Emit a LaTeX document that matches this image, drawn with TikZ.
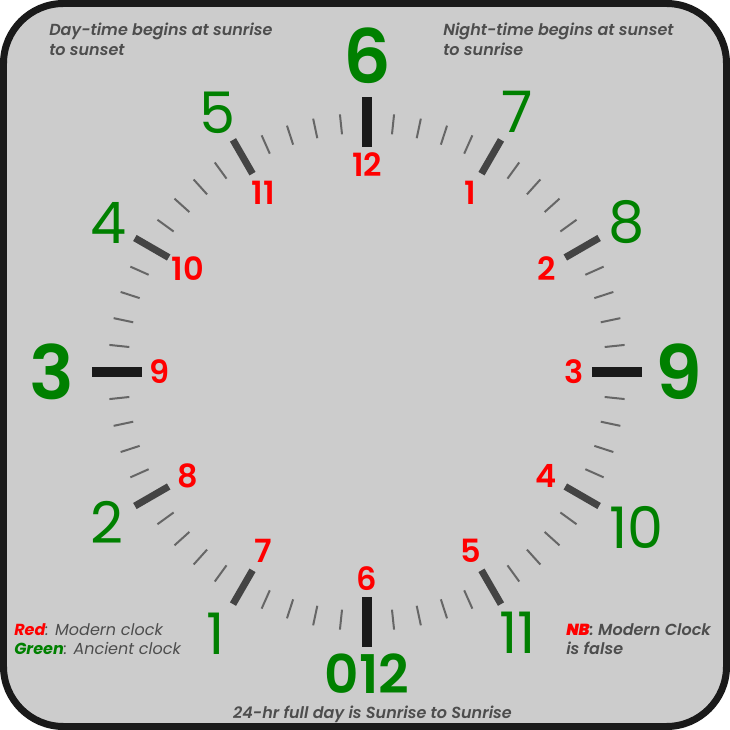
\documentclass[tikz,border=0pt]{standalone}
\usepackage{fontspec}
\setmainfont{Poppins}
\newfontfamily\semifont{Poppins SemiBold}[ItalicFont={Poppins SemiBold Italic}]
\usepackage{xcolor}
\usepackage{tikz}
\usetikzlibrary{positioning}

\definecolor{facegray}{HTML}{CCCCCC}
\definecolor{framegray}{HTML}{1A1A1A}
\definecolor{hourgray}{HTML}{444444}
\definecolor{minorgray}{HTML}{666666}
\definecolor{textgray}{HTML}{4D4D4D}
\definecolor{ancient}{HTML}{008000}
\definecolor{modern}{HTML}{FF0000}

\begin{document}
\begin{tikzpicture}[
    x=0.75pt, y=0.75pt,
    frame/.style={draw=framegray, line width=5.25pt, fill=facegray, rounded corners=45pt},
    minortick/.style={draw=minorgray, line width=1.5pt},
    hourtick/.style={draw=hourgray, line width=5.25pt},
    maintick/.style={draw=framegray, line width=7.5pt},
    modernnum/.style={text=modern, inner sep=0pt, font=\fontsize{24}{24}\selectfont\semifont},
    ancientnum/.style={text=ancient, inner sep=0pt, font=\fontsize{43}{43}\selectfont},
    ancientbig/.style={text=ancient, inner sep=0pt, font=\fontsize{56}{56}\selectfont\semifont},
    note/.style={text=textgray, inner sep=0pt, align=left, font=\fontsize{12}{14.5}\selectfont\semifont\itshape}
]
    \useasboundingbox (-367,-358) rectangle (363,372);

    % Face
    \draw[frame] (-363.5,-354.5) rectangle (359.5,368.5);

    % Ticks
    \foreach \h in {0,...,11}
        \foreach \k in {1,...,4}
            \draw[minortick] ({\h*30+\k*6}:239) -- ({\h*30+\k*6}:259);
    \foreach \a in {30,60,120,150,210,240,300,330}
        \draw[hourtick] (\a:229) -- (\a:268);
    \foreach \a in {0,90,180,270}
        \draw[maintick] (\a:225) -- (\a:275);

    % Modern clock
    \foreach \n in {1,...,12}
        \node[modernnum] (m\n) at ({90-30*\n}:207) {\n};

    % Ancient clock
    \foreach \n/\r in {1/302,2/300,4/299,5/299,7/300,8/300,10/311,11/301}
        \node[ancientnum] (a\n) at ({270-30*\n}:\r) {\n};
    \node[ancientbig] (a6) at (90:316) {6};
    \node[ancientbig] (a3) at (180:315) {3};
    \node[ancientbig] (a9) at (0:312) {9};
    \node[ancientbig, font=\fontsize{40}{40}\selectfont\semifont] (a12) at (270:302) {012};

    % Notes
    \node[note, anchor=north west] (daytxt) at (-318,349) {Day-time begins at sunrise\\to sunset};
    \node[note, anchor=north west] (nighttxt) at (76,349) {Night-time begins at sunset\\to sunrise};
    \node[note, anchor=north west, font=\fontsize{12}{14.5}\selectfont\itshape] (legend) at (-353,-251)
        {\textcolor{modern}{\textbf{Red}}: Modern clock\\\textcolor{ancient}{\textbf{Green}}: Ancient clock};
    \node[note, anchor=north west] (nbtxt) at (199,-251) {\textcolor{modern}{\textbf{NB}}: Modern Clock\\is false};
    \node[note, anchor=base] (fulltxt) at (5.5,-346) {24-hr full day is Sunrise to Sunrise};

\end{tikzpicture}
\end{document}
